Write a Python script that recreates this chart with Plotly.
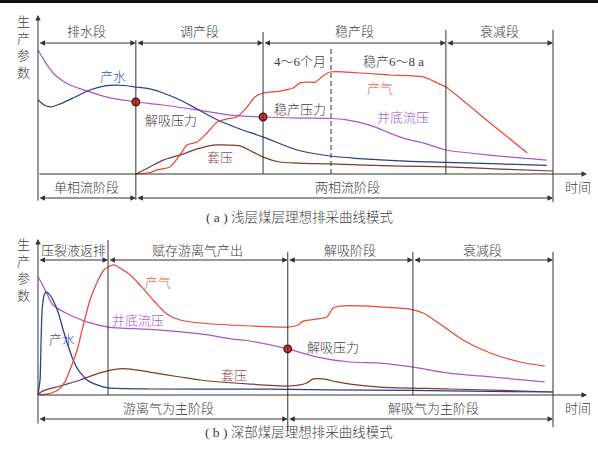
import plotly.graph_objects as go

# ---------------- (a) shallow seam: ideal drainage curves ----------------
a_water_t = [0, 1.2, 2.5, 4.3, 7.2, 10.1, 13.0, 15.0, 16.9, 19.0, 21.7, 24.3, 27.6, 30.9,
             35.3, 39.2, 43.7, 50.3, 56.7, 62.5, 70.3, 79.2, 89.7, 98.8]
a_water = [49.3, 46, 44.7, 46.7, 51.3, 56, 58.7, 59.3, 59, 58, 56.7, 54, 49.3, 43.3,
           35.3, 30, 24.7, 16, 12, 10.3, 8.7, 7.7, 6.7, 5.7]

a_bhp_t = [0, 0.8, 1.75, 3.3, 6.2, 10.1, 14.0, 19.0, 24.3, 30.9, 37.3, 43.7, 50.3, 56.9,
           59.6, 62.0, 65.5, 68.3, 71.6, 74.8, 79.2, 85.8, 93.6, 98.8]
a_bhp = [82.7, 78, 72.7, 66, 59.3, 54.7, 50.7, 48, 46, 42.7, 39.3, 38, 37.3, 37,
         36.3, 34.7, 31.3, 27.3, 23.3, 20.7, 16, 13.3, 10.7, 9.3]

a_gas_t = [19.0, 21.7, 23.1, 25.6, 27.6, 28.9, 30.9, 32.8, 34.8, 36.7, 38.6, 40.6, 42.1,
           43.7, 47.0, 49.5, 50.9, 52.2, 53.8, 55.1, 56.7, 62.0, 68.3, 74.8, 77.5, 79.2,
           87.8, 95.0]
a_gas = [0, 1, 2.7, 4.7, 12.7, 19.3, 21.3, 27.3, 34.7, 36.7, 38, 44.7, 51.3,
         54, 55.3, 57.3, 60.7, 61.3, 61.3, 64.7, 68, 67.5, 66, 64.7, 60.7, 58,
         34, 14]

a_casing_t = [19.0, 21.7, 24.3, 27.6, 30.9, 34.0, 36.7, 39.2, 41.7, 43.7, 47.0, 50.3,
              56.7, 70.3, 79.2, 89.7, 100]
a_casing = [0, 4.7, 9.3, 12.7, 16.7, 19.3, 19.3, 18.7, 14.7, 11.3, 8, 7.3,
            6.7, 5.3, 4.7, 3.3, 2]

a_points_t = [19.0, 43.7]          # desorption / stable-production pressure
a_points = [48, 38]

a_stage_edges = [0, 19.0, 43.7, 79.2, 100]
a_stage_names = ["排水段", "调产段", "稳产段", "衰减段"]
a_flow_edges = [0, 19.0, 100]
a_flow_names = ["单相流阶段", "两相流阶段"]
a_flow_label_t = [9.5, 60.0]
a_plateau_start = 56.9

# ---------------- (b) deep seam: ideal drainage curves ----------------
b_water_t = [0, 0.4, 0.6, 0.8, 1.2, 1.55, 2.3, 2.9, 3.9, 4.9, 5.8, 6.6, 7.8, 9.5, 11.5,
             13.6, 21.7, 41.2, 48.5, 64.5, 80, 100]
b_water = [0, 10, 36.7, 56.7, 66.7, 68.7, 66.7, 63.3, 55.3, 43.3, 33.3, 25.3, 16.7, 10, 6.7,
           4.7, 4, 4, 3.7, 3.3, 2.7, 2]

b_bhp_t = [0, 0.8, 1.75, 2.9, 6.2, 9.5, 13.6, 21.7, 31.5, 37.9, 41.2, 48.5, 54.2, 60.6,
           66.4, 72.6, 79.4, 85.8, 98.4]
b_bhp = [78.7, 74, 67.3, 60, 53.3, 48.7, 45.3, 43.7, 40.7, 37.3, 36, 30.7, 25.3, 22,
         21.3, 18.7, 14.7, 12.7, 8.7]

b_gas_t = [0, 1.9, 3.9, 5.2, 6.2, 7.6, 8.7, 10.1, 11.5, 12.8, 14.0, 14.8, 15.9, 17.9, 19.8,
           22.7, 25.0, 27.6, 31.5, 41.2, 48.5, 50.5, 51.5, 54.2, 56.1, 57.3, 58.6, 64.5,
           66.4, 72.2, 74.8, 77.5, 82.5, 87.8, 93.6, 98.4]
b_gas = [0, 0.7, 3.3, 8.7, 16.7, 30, 45.3, 63.3, 75.3, 83.3, 86, 86.7, 84.7, 80, 73.3,
         62, 54, 50, 48, 46, 45.3, 46.7, 49.3, 50.7, 52, 58, 59.3, 59.3,
         58.7, 57.3, 54.7, 48.7, 36.7, 28, 22, 19.3]

b_casing_t = [0, 0.6, 1.4, 4.3, 8.2, 12.0, 15.3, 17.9, 21.7, 27.6, 31.5, 41.2, 48.5, 50.9,
              52.2, 53.4, 55.3, 58.1, 60.6, 66.4, 80, 100]
b_casing = [0, 2, 3.3, 6, 10, 14.7, 17.3, 17.3, 15.3, 12, 10, 7.3, 6, 6.7,
            8, 10.7, 10.7, 8.7, 7.3, 5.3, 4, 2]

b_points_t = [48.5]
b_points = [30.7]

b_stage_edges = [0, 13.6, 48.5, 72.8, 100]
b_stage_names = ["压裂液返排", "赋存游离气产出", "解吸阶段", "衰减段"]
b_flow_edges = [0, 48.5, 100]
b_flow_names = ["游离气为主阶段", "解吸气为主阶段"]
b_flow_label_t = [25.4, 76.8]

# ---------------- styling ----------------
FONT = "Liberation Serif, Noto Sans CJK SC"
INK = "#333333"
TXT = "#3c3c3c"
C_WATER = "#2f3a8f"
C_BHP = "#a45bc9"
C_GAS = "#e8473b"
C_CASING = "#7d3a36"
T_WATER = "#3d4ca0"
T_BHP = "#a35cc4"
T_GAS = "#e8604e"
T_CASING = "#8e4c58"

fig = go.Figure()


def curve(t, v, color, yaxis, smooth=0.8):
    fig.add_trace(go.Scatter(
        x=t, y=v, mode="lines", yaxis=yaxis, hoverinfo="skip",
        line=dict(color=color, width=1.25, shape="spline", smoothing=smooth)))


def dots(t, v, yaxis):
    fig.add_trace(go.Scatter(
        x=t, y=v, mode="markers", yaxis=yaxis, hoverinfo="skip",
        marker=dict(size=7.5, color="#d8302c", line=dict(color="#5a1212", width=1.4))))


def label(t, v, text, yref, color=TXT, size=13):
    fig.add_annotation(x=t, y=v, xref="x", yref=yref, text=text, showarrow=False,
                       font=dict(family=FONT, size=size, color=color, weight=300))


def arrow(x0, y0, x1, y1, yref, both=False):
    fig.add_annotation(
        x=x1, y=y1, ax=x0, ay=y0, xref="x", yref=yref, axref="x", ayref=yref,
        text="", showarrow=True, arrowhead=2, startarrowhead=2,
        arrowside="end+start" if both else "end",
        arrowsize=1.1, startarrowsize=1.1, arrowwidth=1, arrowcolor=INK,
        standoff=0, startstandoff=0)


def vline(t, lo, hi, yref, dash="solid"):
    fig.add_shape(type="line", xref="x", yref=yref, x0=t, x1=t, y0=lo, y1=hi,
                  line=dict(color=INK, width=1, dash=dash))


def bands(edges, v, yref):
    for e0, e1 in zip(edges[:-1], edges[1:]):
        arrow(e0, v, e1, v, yref, both=True)


# ---- panel (a) ----
ya = "y"
curve(a_bhp_t, a_bhp, C_BHP, ya)
curve(a_water_t, a_water, C_WATER, ya)
curve(a_casing_t, a_casing, C_CASING, ya)
curve(a_gas_t, a_gas, C_GAS, ya, smooth=0.7)
dots(a_points_t, a_points, ya)

arrow(0, -18.7, 0, 106, ya)                 # parameter axis
arrow(0, 0, 106.6, 0, ya)                   # time axis
vline(a_stage_edges[1], -17.3, 89.3, ya)
vline(a_stage_edges[2], 0, 94.7, ya)
vline(a_stage_edges[3], 0, 96, ya)
vline(a_stage_edges[4], -18.7, 96, ya)
vline(a_plateau_start, 0, 84, ya, dash="5px,3px")
bands(a_stage_edges, 87.3, ya)
bands(a_flow_edges, -16, ya)
for e0, e1, name in zip(a_stage_edges[:-1], a_stage_edges[1:], a_stage_names):
    label((e0 + e1) / 2, 94.7, name, ya)
for t, name in zip(a_flow_label_t, a_flow_names):
    label(t, -9.3, name, ya)
label(104.9, -9.3, "时间", ya)
label(-2.9, 84.7, "生<br>产<br>参<br>数", ya)
label(14.6, 64.7, "产水", ya, T_WATER)
label(25.8, 36, "解吸压力", ya)
label(35.3, 11.3, "套压", ya, T_CASING)
label(50.9, 43.3, "稳产压力", ya)
label(50.9, 74.7, "4～6个月", ya)
label(69.0, 74.7, "稳产6～8 a", ya)
label(66.4, 57.3, "产气", ya, T_GAS)
label(70.9, 38, "井底流压", ya, T_BHP)

# ---- panel (b) ----
yb = "y2"
curve(b_bhp_t, b_bhp, C_BHP, yb)
curve(b_casing_t, b_casing, C_CASING, yb)
curve(b_water_t, b_water, C_WATER, yb, smooth=0.5)
curve(b_gas_t, b_gas, C_GAS, yb, smooth=0.7)
dots(b_points_t, b_points, yb)

arrow(0, -20, 0, 104, yb)
arrow(0, 0, 106.6, 0, yb)
vline(b_stage_edges[1], 0, 103.3, yb)
vline(b_stage_edges[2], -23.3, 95.3, yb)
vline(b_stage_edges[3], 0, 95.3, yb)
vline(b_stage_edges[4], -21.3, 95.3, yb)
bands(b_stage_edges, 90, yb)
bands(b_flow_edges, -16, yb)
for e0, e1, name in zip(b_stage_edges[:-1], b_stage_edges[1:], b_stage_names):
    label((e0 + e1) / 2, 96.5, name, yb)
for t, name in zip(b_flow_label_t, b_flow_names):
    label(t, -9.3, name, yb)
label(104.9, -8.7, "时间", yb)
label(-2.9, 83.3, "生<br>产<br>参<br>数", yb)
label(23.3, 74.7, "产气", yb, T_GAS)
label(19.4, 50, "井底流压", yb, T_BHP)
label(4.7, 36.7, "产水", yb, T_WATER)
label(38.0, 13.3, "套压", yb, T_CASING)
label(57.3, 32, "解吸压力", yb)

# ---- captions ----
fig.add_annotation(x=0.5, y=1 - 217 / 450, xref="paper", yref="paper", showarrow=False,
                   text="( a ) 浅层煤层理想排采曲线模式",
                   font=dict(family=FONT, size=13.5, color=TXT, weight=300))
fig.add_annotation(x=0.5, y=1 - 442 / 450, xref="paper", yref="paper", showarrow=False,
                   text="( b ) 深部煤层理想排采曲线模式",
                   font=dict(family=FONT, size=13.5, color=TXT, weight=300))

# dark strip along the top edge
fig.add_shape(type="rect", xref="paper", yref="paper", x0=0, x1=1, y0=1 - 3 / 450, y1=1,
              line=dict(width=0), fillcolor="#111111")

hidden = dict(showgrid=False, zeroline=False, showticklabels=False, showline=False,
              ticks="", fixedrange=True)
fig.update_layout(
    width=598, height=450, autosize=False,
    margin=dict(l=0, r=0, t=0, b=0, pad=0),
    paper_bgcolor="white", plot_bgcolor="white",
    showlegend=False,
    xaxis=dict(range=[-7.3786, 108.738], domain=[0, 1], **hidden),
    yaxis=dict(range=[-34, 116], domain=[0.5, 1], anchor="x", **hidden),
    yaxis2=dict(range=[-36.667, 113.333], domain=[0, 0.5], anchor="x", **hidden),
)

fig.write_html("out.html")
